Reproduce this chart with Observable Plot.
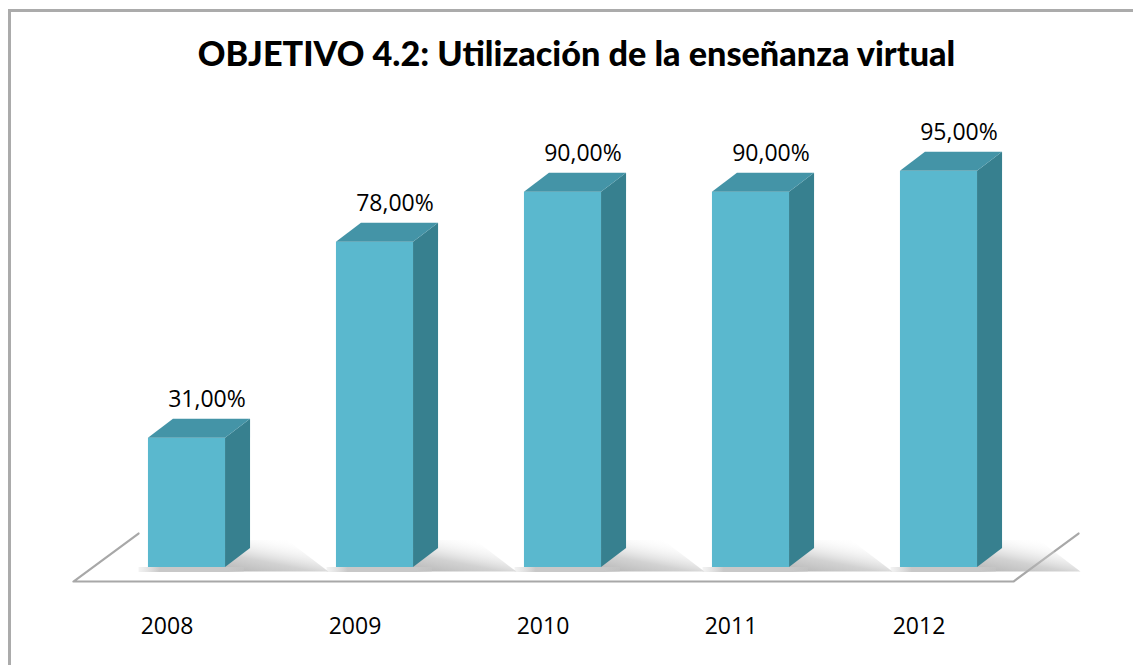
<!DOCTYPE html>
<html>
<head>
<meta charset="utf-8">
<script src="https://cdn.jsdelivr.net/npm/d3@7"></script>
<script src="https://cdn.jsdelivr.net/npm/@observablehq/plot@0.6"></script>
<style>
  html, body { margin: 0; padding: 0; background: #fff; }
  #page { position: relative; width: 1133px; height: 665px; overflow: hidden; background: #fff; }
  #frame { position: absolute; left: 8px; top: 9px; width: 1200px; height: 720px; border: 3px solid #ababab; box-sizing: border-box; }
  #title { position: absolute; left: 0; width: 1153px; top: 36px; text-align: center; font-family: Lato, "Open Sans", sans-serif; font-weight: 900; font-size: 34.2px; line-height: 34px; color: #000; }
  #chart { position: absolute; left: 0; top: 90px; }
</style>
</head>
<body>
<div id="page">
  <div id="frame"></div>
  <div id="title">OBJETIVO 4.2: Utilización de la enseñanza virtual</div>
  <div id="chart"></div>
</div>
<script>
const years = ["2008", "2009", "2010", "2011", "2012"];
const values = [31, 78, 90, 90, 95];
const valueLabels = ["31,00%", "78,00%", "90,00%", "90,00%", "95,00%"];

const COLORS = { front: "#5ab8ce", top: "#4494a7", side: "#37808f", floor: "#a8a8a8" };

// geometry in scale units
const hw = 0.205;   // half bar width (x units)
const ddx = 0.133;  // depth in x
const ddy = 4.56;   // depth in y
const floor = { x0: -0.604, x1: years.length - 1 + 0.396, front: -3.36, back: 8.15, skew: 0.346 };

const rows = years.map((year, i) => ({ i, year, v: values[i], label: valueLabels[i] }));

const sidePts = rows.flatMap(d => [
  { z: d.i, x: d.i + hw, y1: 0, y2: d.v },
  { z: d.i, x: d.i + hw + ddx, y1: ddy, y2: d.v + ddy }
]);
const topPts = rows.flatMap(d => [
  { z: d.i, y: d.v, x1: d.i - hw, x2: d.i + hw },
  { z: d.i, y: d.v + ddy, x1: d.i - hw + ddx, x2: d.i + hw + ddx }
]);
const shadowPts = rows.flatMap(d => [
  { z: d.i, y: -1.1, x1: d.i - hw + 0.1, x2: d.i + hw + 0.55 },
  { z: d.i, y: ddy + 1.9, x1: d.i + hw + ddx - 0.02, x2: d.i + hw + 0.33 }
]);
const floorPts = [
  { x: floor.x0 + floor.skew, y: floor.back },
  { x: floor.x0, y: floor.front },
  { x: floor.x1, y: floor.front },
  { x: floor.x1 + floor.skew, y: floor.back }
];
const floorFill = [
  { y: floor.front, x1: floor.x0, x2: floor.x1 },
  { y: floor.back, x1: floor.x0 + floor.skew, x2: floor.x1 + floor.skew }
];

const chart = Plot.plot({
  width: 1133,
  height: 575,
  margin: 0,
  x: { type: "linear", domain: [0, 4], range: [186.5, 938.5], axis: null },
  y: { type: "linear", domain: [0, 100], range: [477, 60], axis: null },
  style: { fontFamily: "'Open Sans', sans-serif", background: "transparent", overflow: "visible" },
  marks: [
    Plot.areaX(floorFill, { y: "y", x1: "x1", x2: "x2", fill: "#fff" }),
    Plot.line(floorPts, { x: "x", y: "y", stroke: COLORS.floor, strokeWidth: 2.2 }),
    Plot.areaX(shadowPts, { y: "y", x1: "x1", x2: "x2", z: "z", fill: "url(#shadowGrad)" }),
    Plot.rect(rows, { x1: d => d.i - hw - 0.05, x2: d => d.i + hw + 0.1, y1: -1.2, y2: 0, fill: "url(#baseGrad)" }),
    Plot.rect(rows, { x1: d => d.i - hw, x2: d => d.i + hw, y1: 0, y2: "v", fill: COLORS.front }),
    Plot.areaY(sidePts, { x: "x", y1: "y1", y2: "y2", z: "z", fill: COLORS.side }),
    Plot.areaX(topPts, { y: "y", x1: "x1", x2: "x2", z: "z", fill: COLORS.top }),
    Plot.text(rows, { x: "i", y: d => d.v + ddy, text: "label", dx: 20, dy: -20, fontSize: 23, fill: "#000" }),
    Plot.text(rows, { x: "i", frameAnchor: "bottom", text: "year", dx: -20, dy: -32, fontSize: 23, fill: "#000" })
  ]
});

const defs = d3.select(chart).insert("defs", ":first-child");
const g = defs.append("linearGradient").attr("id", "shadowGrad").attr("x1", "0.1").attr("x2", "0.9").attr("y1", "0.9").attr("y2", "0.1");
g.append("stop").attr("offset", "0").attr("stop-color", "#9c9c9c").attr("stop-opacity", 0.85);
g.append("stop").attr("offset", "0.45").attr("stop-color", "#b4b4b4").attr("stop-opacity", 0.6);
g.append("stop").attr("offset", "1").attr("stop-color", "#ffffff").attr("stop-opacity", 0);
const b = defs.append("linearGradient").attr("id", "baseGrad").attr("x1", "0").attr("x2", "1");
b.append("stop").attr("offset", "0").attr("stop-color", "#d8d8d8").attr("stop-opacity", 0.3);
b.append("stop").attr("offset", "0.2").attr("stop-color", "#c8c8c8").attr("stop-opacity", 1);
b.append("stop").attr("offset", "0.85").attr("stop-color", "#c8c8c8").attr("stop-opacity", 1);
b.append("stop").attr("offset", "1").attr("stop-color", "#c8c8c8").attr("stop-opacity", 0.4);

document.getElementById("chart").appendChild(chart);
</script>
</body>
</html>
